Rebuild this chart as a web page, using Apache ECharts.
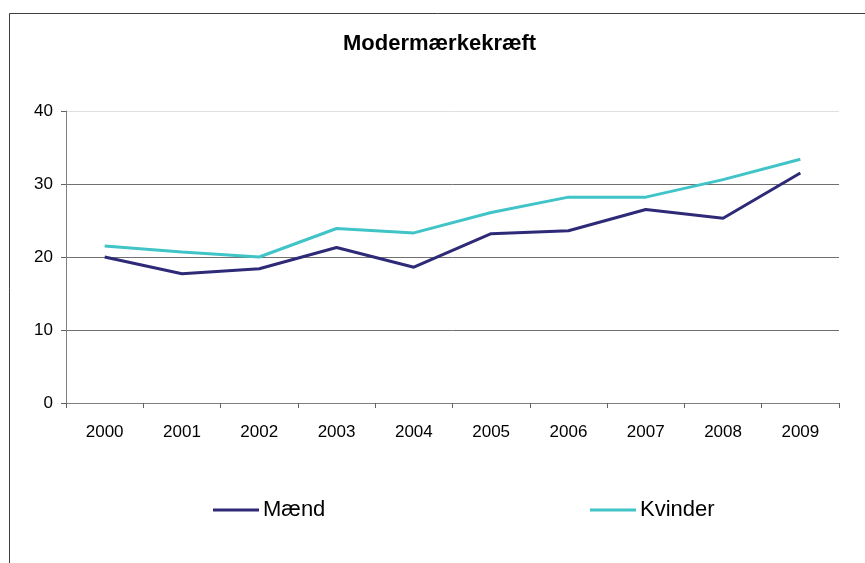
<!DOCTYPE html>
<html>
<head>
<meta charset="utf-8">
<script src="https://cdn.jsdelivr.net/npm/echarts@6/dist/echarts.min.js"></script>
<style>
  html, body { margin: 0; padding: 0; background: #fff; }
  #chart { width: 865px; height: 563px; }
</style>
</head>
<body>
<div id="chart"></div>
<script>
// data
var years = ['2000', '2001', '2002', '2003', '2004', '2005', '2006', '2007', '2008', '2009'];
var maend = [20.0, 17.7, 18.4, 21.3, 18.6, 23.2, 23.6, 26.5, 25.3, 31.5];
var kvinder = [21.5, 20.7, 20.0, 23.9, 23.3, 26.1, 28.2, 28.2, 30.6, 33.4];
var yTicks = [0, 10, 20, 30, 40];

var myChart = echarts.init(document.getElementById('chart'));
var font = '"Liberation Sans", Arial, sans-serif';

var option = {
    animation: false,
    title: {
        text: 'Modermærkekræft',
        left: 343,
        top: 33,
        padding: 0,
        textStyle: {
            fontFamily: font,
            fontSize: 22,
            fontWeight: 'bold',
            color: '#000'
        }
    },
    // ramme rundt om diagrammet
    graphic: [{
        type: 'rect',
        shape: { x: 9.5, y: 13.5, width: 900, height: 600 },
        style: { fill: 'none', stroke: '#404040', lineWidth: 1 },
        silent: true
    }],
    legend: [{
        data: ['Mænd'],
        left: 213,
        top: 499,
        padding: 0,
        icon: 'rect',
        itemWidth: 46,
        itemHeight: 3,
        itemGap: 0,
        textStyle: { fontFamily: font, fontSize: 22, color: '#000', padding: [0, 0, 0, -1] }
    }, {
        data: ['Kvinder'],
        left: 590,
        top: 499,
        padding: 0,
        icon: 'rect',
        itemWidth: 46,
        itemHeight: 3,
        itemGap: 0,
        textStyle: { fontFamily: font, fontSize: 22, color: '#000', padding: [0, 0, 0, -1] }
    }],
    grid: {
        left: 66,
        right: 26,
        top: 111,
        bottom: 160,
        containLabel: false
    },
    xAxis: {
        type: 'category',
        data: years,
        boundaryGap: true,
        axisLine: { lineStyle: { color: '#808080', width: 1 } },
        axisTick: { show: true, length: 5, lineStyle: { color: '#606060' } },
        axisLabel: { fontFamily: font, fontSize: 17, color: '#000', margin: 21 },
        splitLine: { show: false }
    },
    yAxis: {
        type: 'value',
        min: yTicks[0],
        max: yTicks[yTicks.length - 1],
        interval: 10,
        axisLine: { show: true, lineStyle: { color: '#808080', width: 1 } },
        axisTick: { show: true, length: 5, lineStyle: { color: '#606060' } },
        axisLabel: { fontFamily: font, fontSize: 17, color: '#000', margin: 13 },
        splitLine: {
            show: true,
            lineStyle: { color: ['#707070', '#707070', '#707070', '#707070', '#e0e0e0'], width: 1 }
        }
    },
    series: [{
        name: 'Mænd',
        type: 'line',
        data: maend,
        symbol: 'none',
        color: '#2e2a78',
        lineStyle: { width: 3, color: '#2e2a78' }
    }, {
        name: 'Kvinder',
        type: 'line',
        data: kvinder,
        symbol: 'none',
        color: '#40c4c8',
        lineStyle: { width: 3, color: '#40c4c8' }
    }]
};
myChart.setOption(option);
</script>
</body>
</html>
